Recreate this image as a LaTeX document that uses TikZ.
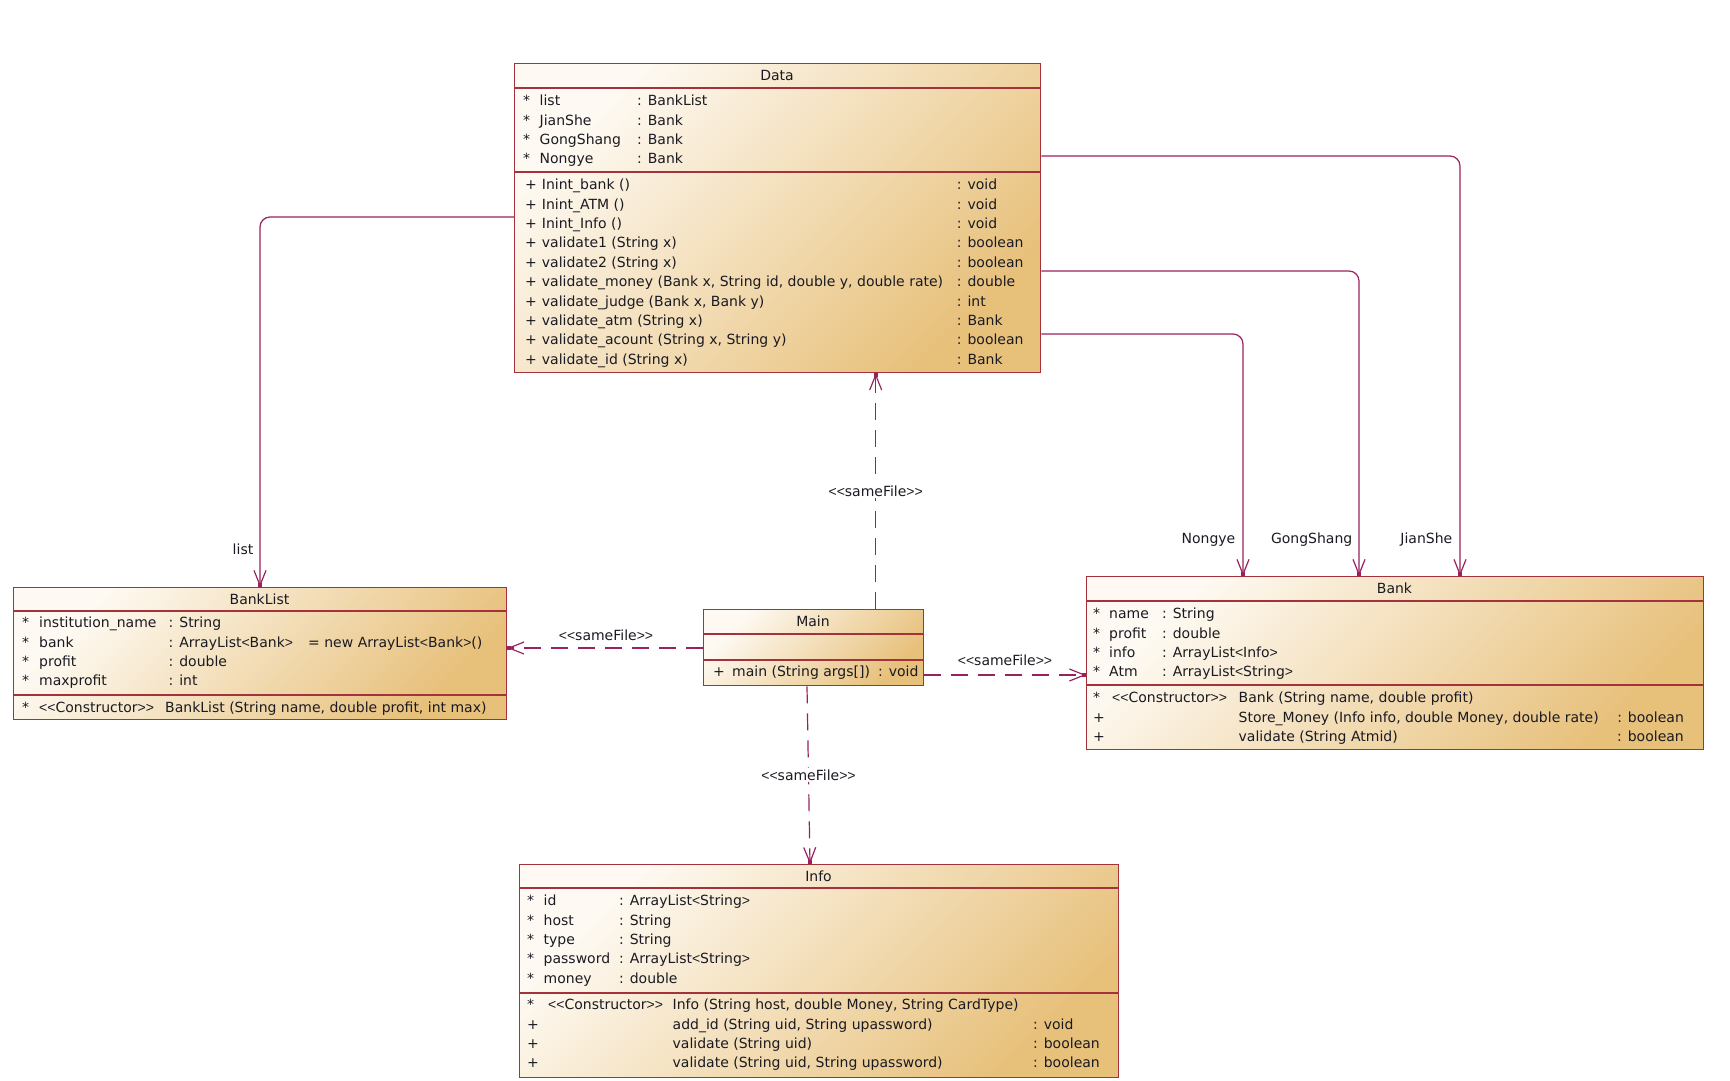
\documentclass[tikz,border=0pt]{standalone}
\usepackage{fontspec}
\setmainfont{DejaVu Sans}[Ligatures=TeXOff]
\newfontfamily\narrowfont{Liberation Sans}
\newcommand\lt{{\narrowfont<}}
\newcommand\gt{{\narrowfont>}}
\newcommand\st{{*}}
\usepackage{array}
\usetikzlibrary{arrows.meta}

\definecolor{bord}{HTML}{A3323C}
\definecolor{conn}{HTML}{98215E}
\definecolor{fillA}{HTML}{FEFAF3}
\definecolor{fillB}{HTML}{E7C07A}
\definecolor{ink}{HTML}{1A1A22}

\tikzset{
 classbox/.style={draw=bord, line width=1.4pt, rectangle, inner sep=0pt, anchor=north west,
   top color=fillA, bottom color=fillB, shading angle=45},
 sep/.style={draw=bord, line width=1.2pt},
 ttl/.style={text=ink, font=\fontsize{14}{16}\selectfont, inner sep=0pt},
 sect/.style={text=ink, font=\fontsize{14}{19.4}\selectfont, inner sep=0pt, anchor=north west},
 assoc/.style={draw=conn, line width=1.2pt, rounded corners=10pt, -{Straight Barb[length=15pt,width=12pt]}},
 dep/.style={draw=conn, line width=1.2pt, dash pattern=on 17pt off 10pt, -{Straight Barb[length=15pt,width=12pt]}},
 lbl/.style={text=ink, font=\fontsize{14}{16}\selectfont, inner sep=1.5pt},
 tipdot/.style={fill=conn},
}
\newcommand\tipmark[1]{\fill[tipdot] ([xshift=-2pt]#1) rectangle ([xshift=2pt,yshift=4pt]#1);}
\newcommand\tipmarkh[1]{\fill[tipdot] ([yshift=-2pt]#1) rectangle ([xshift=4pt,yshift=2pt]#1);}
\newcommand\tipmarkl[1]{\fill[tipdot] ([yshift=-2pt]#1) rectangle ([xshift=-4pt,yshift=2pt]#1);}
\newcommand\tipmarku[1]{\fill[tipdot] ([xshift=-2pt]#1) rectangle ([xshift=2pt,yshift=-4pt]#1);}

\begin{document}
\begin{tikzpicture}[x=1pt, y=-1pt]
\useasboundingbox (0,0) rectangle (1730,1081);

% ---------------- Data ----------------
\node[classbox, minimum width=526pt, minimum height=309pt] (data) at (514,63) {};
\draw[sep] ([yshift=-25pt]data.north west) -- ([yshift=-25pt]data.north east);
\draw[sep] ([yshift=-109pt]data.north west) -- ([yshift=-109pt]data.north east);
\node[ttl] (dataT) at (777,75.5) {Data};
\node[sect] (dataA) at (514,92) {\begin{tabular}{@{\hspace{9pt}}p{16.5pt}@{}p{97.5pt}@{}l@{}}
\st & list & : BankList\\
\st & JianShe & : Bank\\
\st & GongShang & : Bank\\
\st & Nongye & : Bank
\end{tabular}};
\node[sect] (dataM) at (514,176) {\begin{tabular}{@{\hspace{11pt}}p{16.7pt}@{}p{415pt}@{}l@{}}
+ & Inint\_bank () & : void\\
+ & Inint\_ATM () & : void\\
+ & Inint\_Info () & : void\\
+ & validate1 (String x) & : boolean\\
+ & validate2 (String x) & : boolean\\
+ & validate\_money (Bank x, String id, double y, double rate) & : double\\
+ & validate\_judge (Bank x, Bank y) & : int\\
+ & validate\_atm (String x) & : Bank\\
+ & validate\_acount (String x, String y) & : boolean\\
+ & validate\_id (String x) & : Bank
\end{tabular}};

% ---------------- BankList ----------------
\node[classbox, minimum width=493pt, minimum height=132pt] (banklist) at (13,587) {};
\draw[sep] ([yshift=-24pt]banklist.north west) -- ([yshift=-24pt]banklist.north east);
\draw[sep] ([yshift=-108pt]banklist.north west) -- ([yshift=-108pt]banklist.north east);
\node[ttl] (banklistT) at (259.5,599) {BankList};
\node[sect] (banklistA) at (13,614) {\begin{tabular}{@{\hspace{9pt}}p{17pt}@{}p{129.5pt}@{}p{139.5pt}@{}l@{}}
\st & institution\_name & : String & \\
\st & bank & : ArrayList\lt Bank\gt & = new ArrayList\lt Bank\gt ()\\
\st & profit & : double & \\
\st & maxprofit & : int &
\end{tabular}};
\node[sect] (banklistM) at (13,699) {\begin{tabular}{@{\hspace{9pt}}p{17pt}@{}p{126pt}@{}l@{}}
\st & \lt\lt Constructor\gt\gt & BankList (String name, double profit, int max)
\end{tabular}};

% ---------------- Main ----------------
\node[classbox, minimum width=220pt, minimum height=76pt] (main) at (703,609) {};
\draw[sep] ([yshift=-25pt]main.north west) -- ([yshift=-25pt]main.north east);
\draw[sep] ([yshift=-51pt]main.north west) -- ([yshift=-51pt]main.north east);
\node[ttl] (mainT) at (813,621.5) {Main};
\node[sect] (mainM) at (703,663) {\begin{tabular}{@{\hspace{10pt}}p{19pt}@{}p{146pt}@{}l@{}}
+ & main (String args{[]}) & : void
\end{tabular}};

% ---------------- Bank ----------------
\node[classbox, minimum width=617pt, minimum height=173pt] (bank) at (1086,576) {};
\draw[sep] ([yshift=-25pt]bank.north west) -- ([yshift=-25pt]bank.north east);
\draw[sep] ([yshift=-109pt]bank.north west) -- ([yshift=-109pt]bank.north east);
\node[ttl] (bankT) at (1394.5,588.5) {Bank};
\node[sect] (bankA) at (1086,605) {\begin{tabular}{@{\hspace{7pt}}p{16pt}@{}p{53pt}@{}l@{}}
\st & name & : String\\
\st & profit & : double\\
\st & info & : ArrayList\lt Info\gt\\
\st & Atm & : ArrayList\lt String\gt
\end{tabular}};
\node[sect] (bankM) at (1086,689) {\begin{tabular}{@{\hspace{7pt}}p{19pt}@{}p{126.5pt}@{}p{378.5pt}@{}l@{}}
\st & \lt\lt Constructor\gt\gt & Bank (String name, double profit) & \\
+ & & Store\_Money (Info info, double Money, double rate) & : boolean\\
+ & & validate (String Atmid) & : boolean
\end{tabular}};

% ---------------- Info ----------------
\node[classbox, minimum width=599pt, minimum height=213pt] (info) at (519,864) {};
\draw[sep] ([yshift=-24pt]info.north west) -- ([yshift=-24pt]info.north east);
\draw[sep] ([yshift=-129pt]info.north west) -- ([yshift=-129pt]info.north east);
\node[ttl] (infoT) at (818.5,876) {Info};
\node[sect] (infoA) at (519,892) {\begin{tabular}{@{\hspace{8pt}}p{16.5pt}@{}p{75.5pt}@{}l@{}}
\st & id & : ArrayList\lt String\gt\\
\st & host & : String\\
\st & type & : String\\
\st & password & : ArrayList\lt String\gt\\
\st & money & : double
\end{tabular}};
\node[sect] (infoM) at (519,996) {\begin{tabular}{@{\hspace{8pt}}p{21pt}@{}p{124.5pt}@{}p{360.5pt}@{}l@{}}
\st & \lt\lt Constructor\gt\gt & Info (String host, double Money, String CardType) & \\
+ & & add\_id (String uid, String upassword) & : void\\
+ & & validate (String uid) & : boolean\\
+ & & validate (String uid, String upassword) & : boolean
\end{tabular}};

% ---------------- associations ----------------
\coordinate (eList) at ([xshift=247pt]banklist.north west);
\draw[assoc] ([yshift=-154pt]data.north west) -| (eList);
\tipmark{eList}
\node[lbl, anchor=east] (lblList) at (255,549) {list};

\coordinate (eJian) at ([xshift=374pt]bank.north west);
\coordinate (eGong) at ([xshift=273pt]bank.north west);
\coordinate (eNong) at ([xshift=157pt]bank.north west);
\draw[assoc] ([yshift=-93pt]data.north east) -| (eJian);
\draw[assoc] ([yshift=-208pt]data.north east) -| (eGong);
\draw[assoc] ([yshift=-271pt]data.north east) -| (eNong);
\tipmark{eJian}\tipmark{eGong}\tipmark{eNong}
\node[lbl, anchor=east] (lblNong) at (1237,540) {Nongye};
\node[lbl, anchor=east] (lblGong) at (1354,540) {GongShang};
\node[lbl, anchor=east] (lblJian) at (1454,540) {JianShe};

% ---------------- dependencies ----------------
\coordinate (mTop) at ([xshift=172.7pt]main.north west);
\coordinate (eData) at (mTop |- data.south);
\draw[dep] (mTop) -- (eData) node[lbl, fill=white, pos=0.5] (lblD) {\lt\lt sameFile\gt\gt};
\tipmarku{eData}

\coordinate (mL) at ([yshift=-39pt]main.north west);
\coordinate (eBL) at (mL -| banklist.east);
\draw[dep] (mL) -- (eBL);
\tipmarkh{eBL}
\node[lbl] (lblBL) at (606,635) {\lt\lt sameFile\gt\gt};

\coordinate (mR) at ([yshift=-66pt]main.north east);
\coordinate (eB) at (mR -| bank.west);
\draw[dep] (mR) -- (eB);
\tipmarkl{eB}
\node[lbl] (lblB) at (1005,660) {\lt\lt sameFile\gt\gt};

\coordinate (mB) at ([xshift=104pt]main.south west);
\coordinate (iT) at ([xshift=291pt]info.north west);
\draw[dep] (mB) -- (iT) node[lbl, fill=white, pos=0.5] (lblI) {\lt\lt sameFile\gt\gt};
\tipmark{iT}
\end{tikzpicture}
\end{document}
